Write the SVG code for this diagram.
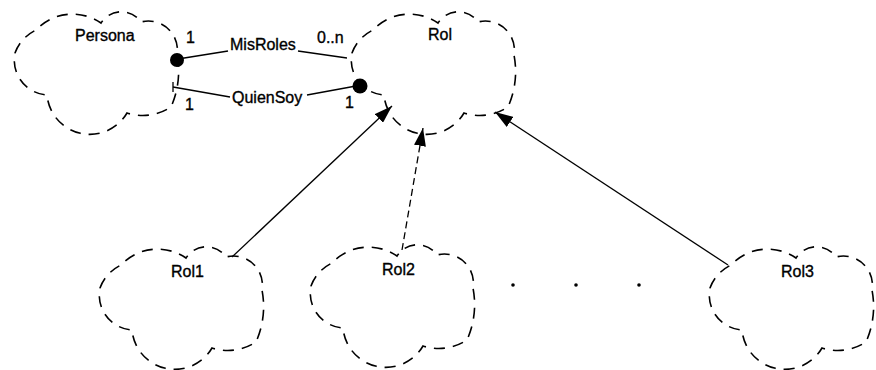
<svg xmlns="http://www.w3.org/2000/svg" xmlns:xlink="http://www.w3.org/1999/xlink" width="876" height="370" viewBox="0 0 876 370">
<style>
.cloud{fill:none;stroke:#000;stroke-width:1.6;stroke-dasharray:11 8}
.lbl{font-family:"Liberation Sans",Arial,sans-serif;font-size:16px;fill:#000;stroke:#000;stroke-width:0.35}
.ln{stroke:#000;stroke-width:1.3;fill:none}
.dash{stroke-dasharray:7 4}
</style>
<defs>
<path id="cloud" d="M5,38 A41,41 0 0 1 26,15 A50,50 0 0 1 91,8 A24,24 0 0 1 131,7 A29,29 0 0 1 167,40 A86,86 0 0 1 161,92 A51,51 0 0 1 117,98 A43,43 0 0 1 37,80 A35,35 0 0 1 5,38 Z"/>
<marker id="arr" viewBox="0 0 18 12" refX="18" refY="6" markerWidth="18" markerHeight="12" markerUnits="userSpaceOnUse" orient="auto">
<path d="M0,0 L18,6 L0,12 Z" fill="#000"/>
</marker>
</defs>
<rect width="876" height="370" fill="#fff"/>
<g id="Persona">
<use xlink:href="#cloud" href="#cloud" class="cloud" transform="translate(10,15)"/>
<text class="lbl" x="75" y="41">Persona</text>
</g>
<g id="Rol">
<use xlink:href="#cloud" href="#cloud" class="cloud" transform="translate(347,15)"/>
<text class="lbl" x="428" y="40">Rol</text>
</g>
<g id="Rol1">
<use xlink:href="#cloud" href="#cloud" class="cloud" transform="translate(95,250)"/>
<text class="lbl" x="171" y="277">Rol1</text>
</g>
<g id="Rol2">
<use xlink:href="#cloud" href="#cloud" class="cloud" transform="translate(306,248)"/>
<text class="lbl" x="382" y="275">Rol2</text>
</g>
<g id="Rol3">
<use xlink:href="#cloud" href="#cloud" class="cloud" transform="translate(705,250)"/>
<text class="lbl" x="781" y="277">Rol3</text>
</g>
<g id="connectors">
<line class="ln" x1="178" y1="59" x2="228" y2="51"/>
<line class="ln" x1="298" y1="51" x2="347" y2="58"/>
<circle cx="177" cy="60" r="7" fill="#000"/>
<text class="lbl" x="230" y="50">MisRoles</text>
<text class="lbl" x="186" y="43">1</text>
<text class="lbl" x="317" y="43">0..n</text>
<line class="ln" x1="173" y1="87" x2="230" y2="97"/>
<line class="ln" x1="173" y1="82" x2="173" y2="92"/>
<line class="ln" x1="307" y1="95" x2="356" y2="86"/>
<circle cx="360" cy="86" r="7.5" fill="#000"/>
<text class="lbl" x="232" y="103">QuienSoy</text>
<text class="lbl" x="185" y="110">1</text>
<text class="lbl" x="345" y="108">1</text>
<line class="ln" x1="232" y1="257" x2="392" y2="106" marker-end="url(#arr)"/>
<line class="ln dash" x1="402" y1="250" x2="423" y2="128" marker-end="url(#arr)"/>
<line class="ln" x1="728" y1="265" x2="495" y2="112" marker-end="url(#arr)"/>
</g>
<g id="ellipsis" fill="#000">
<circle cx="513" cy="285" r="1.8"/>
<circle cx="576" cy="285" r="1.8"/>
<circle cx="639" cy="285" r="1.8"/>
</g>
</svg>
